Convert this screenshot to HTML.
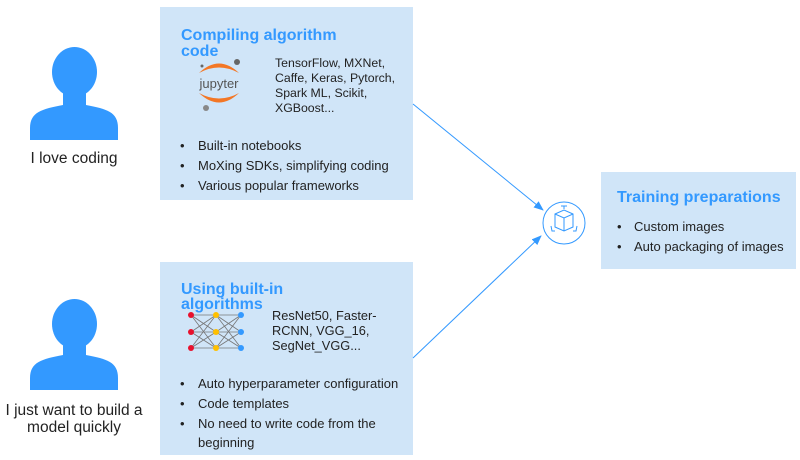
<!DOCTYPE html>
<html><head><meta charset="utf-8"><style>
body{margin:0;background:#fff;}
svg{display:block;font-family:"Liberation Sans",Arial,sans-serif;}
</style></head><body>
<svg width="800" height="460" viewBox="0 0 800 460" xmlns="http://www.w3.org/2000/svg">
<defs>
<marker id="a" markerWidth="10" markerHeight="8" refX="9" refY="4" orient="auto" markerUnits="userSpaceOnUse"><path d="M0,0 L10,4 L0,8 Z" fill="#3399ff"/></marker>
</defs>
<rect width="800" height="460" fill="#fff"/>
<g transform="translate(0,48)"><ellipse cx="74.5" cy="24" rx="22.5" ry="25" fill="#3399ff"/><rect x="63" y="40" width="23" height="20" fill="#3399ff"/><path d="M30,92 L30,80 C30,64 42,61 63,57 L86,57 C107,61 118,64 118,80 L118,92 Z" fill="#3399ff"/></g>
<g transform="translate(0,300)"><ellipse cx="74.5" cy="24" rx="22.5" ry="25" fill="#3399ff"/><rect x="63" y="40" width="23" height="20" fill="#3399ff"/><path d="M30,90 L30,78 C30,62 42,59 63,55 L86,55 C107,59 118,62 118,78 L118,90 Z" fill="#3399ff"/></g>
<text x="74" y="163" font-size="15.5" fill="#222" text-anchor="middle">I love coding</text>
<text x="74" y="415" font-size="15.5" fill="#222" text-anchor="middle">I just want to build a</text>
<text x="74" y="432" font-size="15.5" fill="#222" text-anchor="middle">model quickly</text>

<rect x="160" y="7" width="253" height="193" fill="#d0e5f8"/>
<text font-size="16" font-weight="bold" fill="#3399ff"><tspan x="181" y="40">Compiling algorithm</tspan><tspan x="181" y="56">code</tspan></text>
<g>
<path d="M199,73 Q219,54 239,73 Q219,62 199,73 Z" fill="#f37726"/>
<path d="M199,93 Q219,112 239,93 Q219,104 199,93 Z" fill="#f37726"/>
<text x="219" y="88" font-size="13" fill="#555" text-anchor="middle">jupyter</text>
<circle cx="237" cy="62" r="3" fill="#666"/><circle cx="202" cy="66" r="1.5" fill="#666"/><circle cx="206" cy="108" r="3" fill="#888"/>
</g>
<text font-size="12.3" fill="#222"><tspan x="275" y="67">TensorFlow, MXNet,</tspan><tspan x="275" y="82">Caffe, Keras, Pytorch,</tspan><tspan x="275" y="97">Spark ML, Scikit,</tspan><tspan x="275" y="112">XGBoost...</tspan></text>
<text font-size="13" fill="#222"><tspan x="180" y="150">•</tspan><tspan x="198" y="150">Built-in notebooks</tspan><tspan x="180" y="170">•</tspan><tspan x="198" y="170">MoXing SDKs, simplifying coding</tspan><tspan x="180" y="190">•</tspan><tspan x="198" y="190">Various popular frameworks</tspan></text>

<rect x="160" y="262" width="253" height="193" fill="#d0e5f8"/>
<text font-size="16" font-weight="bold" fill="#3399ff"><tspan x="181" y="294">Using built-in</tspan><tspan x="181" y="309">algorithms</tspan></text>
<g stroke="#777" stroke-width="0.8" fill="none">
<path d="M191,315 L241,315 M191,332 L241,332 M191,348 L241,348 M191,315 L216,332 M216,332 L191,348 M191,315 L216,348 M191,332 L216,315 M191,348 L216,315 M191,332 L216,348 M216,315 L241,332 M241,332 L216,348 M216,315 L241,348 M216,332 L241,315 M216,348 L241,315 M216,332 L241,348"/>
</g>
<g><circle cx="191" cy="315" r="3" fill="#e8112d"/><circle cx="191" cy="332" r="3" fill="#e8112d"/><circle cx="191" cy="348" r="3" fill="#e8112d"/>
<circle cx="216" cy="315" r="3" fill="#ffc000"/><circle cx="216" cy="332" r="3" fill="#ffc000"/><circle cx="216" cy="348" r="3" fill="#ffc000"/>
<circle cx="241" cy="315" r="3" fill="#3399ff"/><circle cx="241" cy="332" r="3" fill="#3399ff"/><circle cx="241" cy="348" r="3" fill="#3399ff"/></g>
<text font-size="12.8" fill="#222"><tspan x="272" y="320">ResNet50, Faster-</tspan><tspan x="272" y="335">RCNN, VGG_16,</tspan><tspan x="272" y="350">SegNet_VGG...</tspan></text>
<text font-size="13" fill="#222"><tspan x="180" y="388">•</tspan><tspan x="198" y="388">Auto hyperparameter configuration</tspan><tspan x="180" y="408">•</tspan><tspan x="198" y="408">Code templates</tspan><tspan x="180" y="428">•</tspan><tspan x="198" y="428">No need to write code from the</tspan><tspan x="198" y="447">beginning</tspan></text>

<line x1="413" y1="104" x2="543" y2="210" stroke="#3399ff" stroke-width="1" marker-end="url(#a)"/>
<line x1="413" y1="358" x2="541" y2="236" stroke="#3399ff" stroke-width="1" marker-end="url(#a)"/>
<circle cx="564" cy="223" r="21" fill="#fff" stroke="#3399ff" stroke-width="1"/>
<g fill="none" stroke="#3399ff" stroke-width="1">
<path d="M555,214 L564,210 L573,214 L573,227 L564,231 L555,227 Z M555,214 L564,218 L573,214 M564,218 L564,231"/>
<path d="M561,206 L567,206 M564,206 L564,209 M551,226 L552,231 L555,231 M577,226 L576,231 L573,231"/>
</g>

<rect x="601" y="172" width="195" height="97" fill="#d0e5f8"/>
<text x="617" y="202" font-size="16" font-weight="bold" fill="#3399ff">Training preparations</text>
<text font-size="13" fill="#222"><tspan x="617" y="231">•</tspan><tspan x="634" y="231">Custom images</tspan><tspan x="617" y="251">•</tspan><tspan x="634" y="251">Auto packaging of images</tspan></text>
</svg>
</body></html>
